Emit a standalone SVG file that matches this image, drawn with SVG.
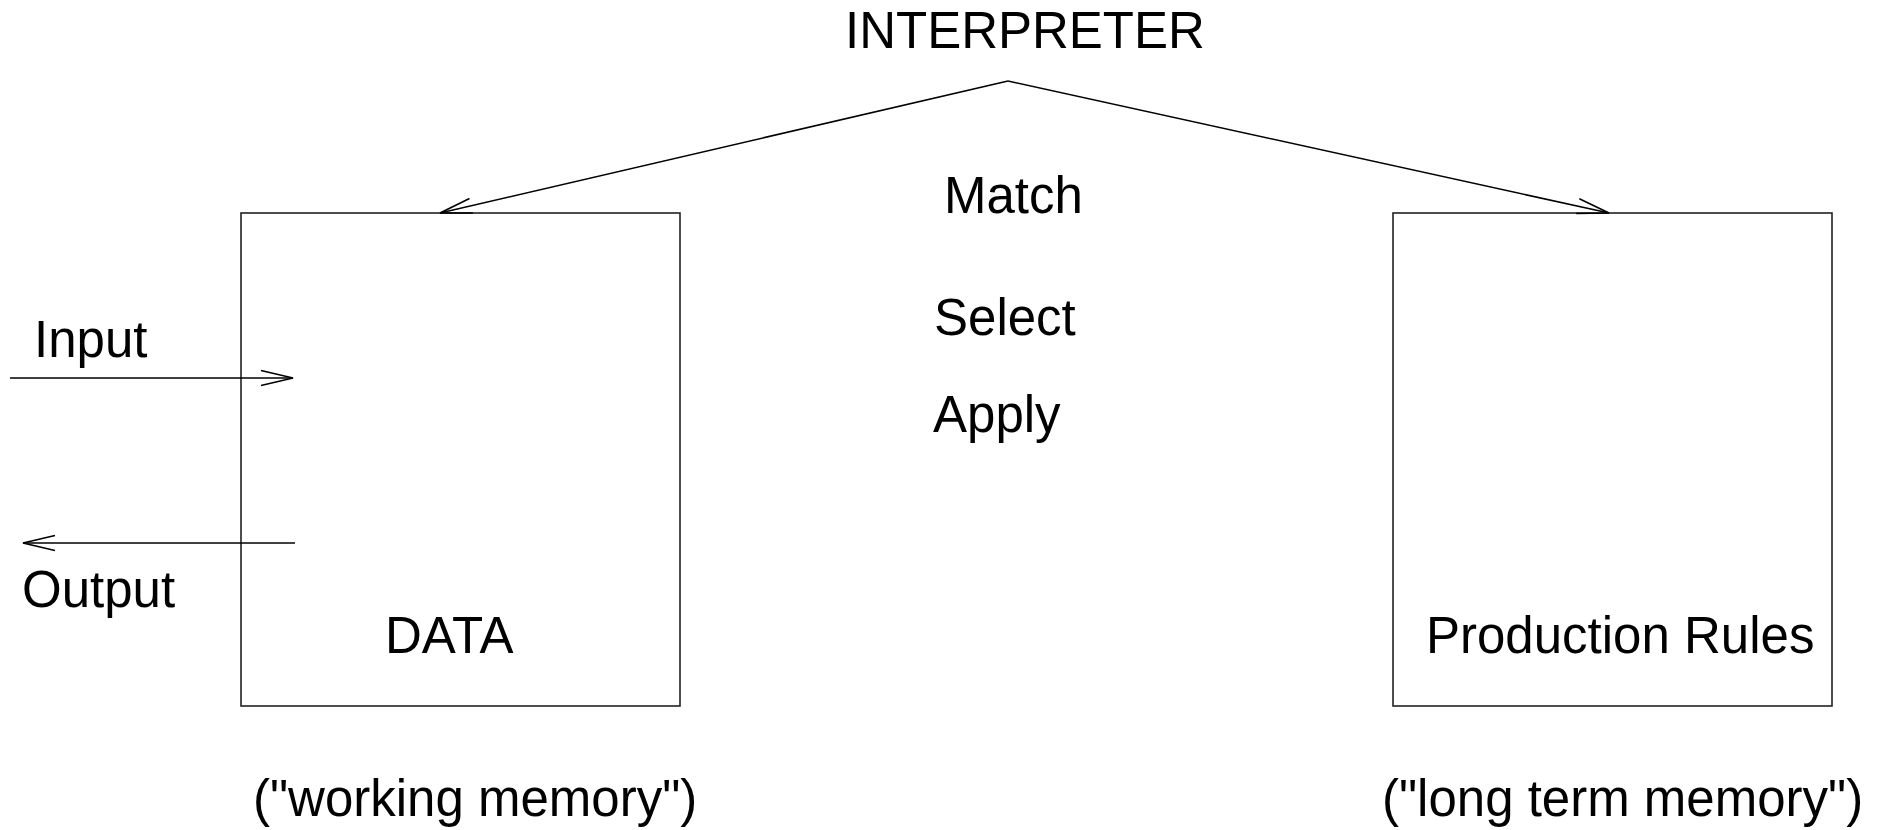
<svg xmlns="http://www.w3.org/2000/svg" width="1880" height="830" viewBox="0 0 1880 830">
<defs>
<style>
text{font-family:"Liberation Sans",Arial,sans-serif;font-size:51px;fill:#000}
.box{fill:none;stroke:#222;stroke-width:1.6}
.conn{fill:none;stroke:#000;stroke-width:1.6}
</style>
<marker id="ah" markerUnits="userSpaceOnUse" markerWidth="40" markerHeight="20" viewBox="-34 -10 36 20" refX="0" refY="0" orient="auto" overflow="visible">
<path d="M-32,-7.5 L0,0 L-32,7.5" fill="none" stroke="#000" stroke-width="1.6"/>
</marker>
</defs>
<rect width="1880" height="830" fill="#fff"/>
<g id="interpreter">
<text x="845" y="48">INTERPRETER</text>
<text x="944" y="213">Match</text>
<text x="934" y="335">Select</text>
<text x="933" y="432">Apply</text>
</g>
<g id="data">
<rect class="box" x="241" y="213" width="439" height="493"/>
<text x="385" y="653">DATA</text>
<text x="253" y="816">("working memory")</text>
</g>
<g id="rules">
<rect class="box" x="1393" y="213" width="439" height="493"/>
<text x="1426" y="653">Production Rules</text>
<text x="1382" y="816">("long term memory")</text>
</g>
<g id="io">
<text x="34" y="357">Input</text>
<text x="22" y="607">Output</text>
</g>
<g id="connectors">
<line class="conn" x1="1008" y1="81" x2="440" y2="213" marker-end="url(#ah)"/>
<line class="conn" x1="1008" y1="81" x2="1609" y2="213" marker-end="url(#ah)"/>
<line class="conn" x1="10" y1="378" x2="293" y2="378" marker-end="url(#ah)"/>
<line class="conn" x1="295" y1="543" x2="23" y2="543" marker-end="url(#ah)"/>
</g>
</svg>
